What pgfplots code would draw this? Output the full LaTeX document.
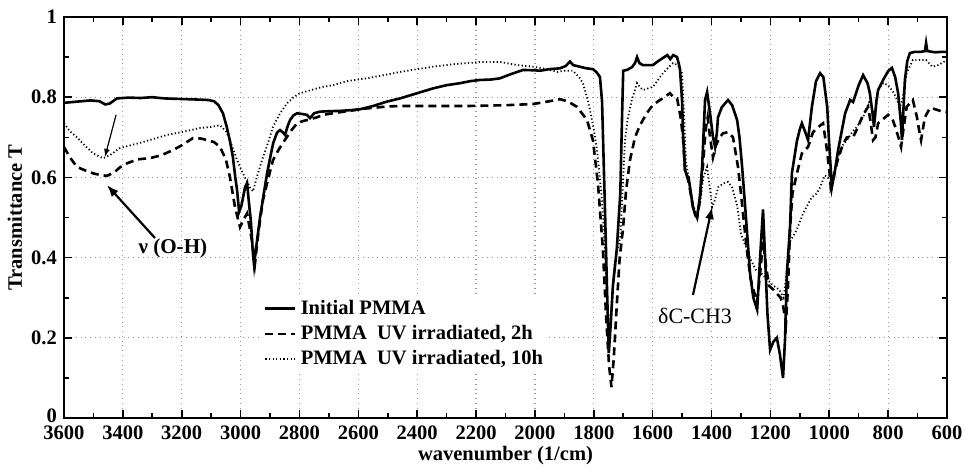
\documentclass[border=0pt]{standalone}
\usepackage{fontspec}
\setmainfont{Liberation Serif}
\usepackage{pgfplots}
\pgfplotsset{compat=1.18}
\usetikzlibrary{arrows.meta}

\newcommand{\lblfont}{\bfseries\fontsize{10.3}{12.4}\selectfont}

\begin{document}
\begin{tikzpicture}
\begin{axis}[
  scale only axis,
  width=441.5bp, height=200.5bp,
  x dir=reverse,
  xmin=600, xmax=3600, ymin=0, ymax=1,
  xtick={600,800,...,3600},
  ytick={0,0.2,0.4,0.6,0.8,1},
  yticklabels={\raisebox{2.5bp}{0},0.2,0.4,0.6,0.8,1},
  minor x tick num=1, minor y tick num=1,
  scaled x ticks=false,
  /pgf/number format/1000 sep={},
  /pgf/number format/assume math mode=true,
  ticklabel style={font=\lblfont, inner sep=1bp},
  xticklabel style={yshift=-2.6bp},
  yticklabel style={xshift=-2.4bp},
  label style={font=\lblfont},
  xlabel={wavenumber (1/cm)},
  ylabel={Transmittance T},
  xlabel style={yshift=1.1bp},
  grid=major,
  major grid style={dotted, gray!80, line width=0.6bp},
  axis line style={line width=1bp},
  tick style={black, line width=0.8bp},
  major tick length=4bp, minor tick length=2.5bp,
  legend cell align=left,
  legend style={draw=none, fill=white, font=\lblfont, at={(0.224,0.31)}, anchor=north west, inner sep=1bp, row sep=0pt},
  legend image code/.code={\draw[#1] (0bp,0bp) -- (15bp,0bp);},
]
\addplot[black, line width=1.3bp] coordinates {
(3600,0.786) (3570,0.788) (3540,0.790) (3510,0.792) (3480,0.790) (3460,0.782) (3445,0.784) (3420,0.797)
(3380,0.799) (3340,0.798) (3300,0.800) (3260,0.797) (3220,0.796) (3180,0.795) (3140,0.794) (3110,0.793)
(3090,0.790) (3075,0.780) (3060,0.760) (3047,0.726) (3036,0.690) (3026,0.650) (3018,0.600) (3012,0.569)
(3005,0.514) (2997,0.530) (2985,0.575) (2978,0.586) (2972,0.540) (2965,0.490) (2958,0.410) (2954,0.380)
(2948,0.420) (2934,0.500) (2920,0.565) (2910,0.610) (2898,0.655) (2889,0.686) (2876,0.712) (2866,0.718)
(2856,0.712) (2849,0.706) (2840,0.728) (2832,0.743) (2820,0.755) (2808,0.760) (2790,0.758) (2775,0.756)
(2764,0.748) (2750,0.760) (2730,0.764) (2700,0.765) (2660,0.766) (2620,0.768) (2594,0.770) (2550,0.778)
(2503,0.789) (2458,0.797) (2400,0.810) (2346,0.822) (2300,0.830) (2254,0.835) (2220,0.840) (2187,0.843)
(2150,0.844) (2119,0.847) (2080,0.858) (2040,0.868) (2000,0.867) (1983,0.866) (1950,0.870) (1915,0.872)
(1895,0.878) (1881,0.889) (1870,0.880) (1847,0.876) (1825,0.872) (1803,0.870) (1790,0.862) (1779,0.850)
(1772,0.790) (1769,0.710) (1762,0.520) (1755,0.320) (1749,0.162) (1742,0.240) (1735,0.330) (1722,0.420)
(1710,0.560) (1704,0.750) (1700,0.866) (1687,0.868) (1670,0.875) (1660,0.885) (1653,0.900) (1645,0.885)
(1633,0.880) (1610,0.880) (1599,0.880) (1585,0.888) (1565,0.898) (1550,0.905) (1540,0.895) (1530,0.905)
(1517,0.900) (1510,0.880) (1507,0.868) (1500,0.790) (1497,0.710) (1490,0.618) (1484,0.605) (1478,0.600)
(1470,0.560) (1463,0.526) (1455,0.505) (1449,0.500) (1440,0.550) (1432,0.626) (1422,0.793) (1415,0.813)
(1405,0.760) (1395,0.700) (1388,0.676) (1382,0.710) (1378,0.750) (1365,0.775) (1344,0.793) (1330,0.780)
(1313,0.743) (1305,0.700) (1296,0.626) (1285,0.520) (1279,0.460) (1269,0.360) (1258,0.300) (1245,0.270)
(1235,0.400) (1225,0.520) (1218,0.400) (1210,0.260) (1201,0.170) (1190,0.190) (1178,0.200) (1168,0.160)
(1157,0.100) (1150,0.200) (1144,0.360) (1133,0.480) (1127,0.610) (1110,0.690) (1100,0.720) (1093,0.735)
(1080,0.710) (1072,0.693) (1059,0.776) (1045,0.840) (1031,0.860) (1020,0.850) (1007,0.776) (1000,0.680)
(991,0.576) (980,0.620) (970,0.668) (946,0.760) (929,0.793) (919,0.788) (900,0.830) (885,0.855)
(870,0.835) (862,0.810) (853,0.760) (848,0.726) (840,0.790) (834,0.818) (817,0.843) (800,0.865)
(787,0.873) (776,0.850) (766,0.810) (757,0.740) (753,0.693) (748,0.770) (743,0.843) (735,0.890)
(726,0.910) (710,0.913) (690,0.913) (675,0.915) (671,0.935) (667,0.915) (640,0.912) (620,0.913) (600,0.913)
};
\addlegendentry{Initial PMMA}
\addplot[black, line width=1.3bp, dash pattern=on 4bp off 2.5bp] coordinates {
(3600,0.676) (3580,0.650) (3556,0.626) (3530,0.618) (3500,0.610) (3478,0.606) (3454,0.604) (3430,0.612)
(3410,0.625) (3386,0.635) (3350,0.645) (3308,0.648) (3270,0.655) (3230,0.668) (3200,0.680) (3162,0.698)
(3135,0.697) (3114,0.693) (3090,0.688) (3070,0.676) (3050,0.645) (3036,0.600) (3019,0.526) (3002,0.476)
(2990,0.495) (2978,0.510) (2968,0.470) (2961,0.440) (2951,0.386) (2940,0.460) (2924,0.544) (2905,0.600)
(2890,0.643) (2870,0.670) (2856,0.686) (2830,0.715) (2808,0.735) (2790,0.740) (2764,0.745) (2740,0.750)
(2720,0.756) (2686,0.760) (2640,0.765) (2571,0.772) (2500,0.777) (2458,0.778) (2350,0.778) (2231,0.778)
(2100,0.780) (2006,0.783) (1950,0.790) (1915,0.795) (1890,0.790) (1857,0.776) (1823,0.743) (1803,0.693)
(1786,0.586) (1769,0.420) (1758,0.250) (1748,0.130) (1740,0.077) (1732,0.150) (1722,0.280) (1712,0.400)
(1701,0.470) (1690,0.570) (1677,0.643) (1660,0.700) (1643,0.730) (1620,0.760) (1600,0.780) (1575,0.793)
(1560,0.800) (1541,0.810) (1530,0.800) (1517,0.797) (1505,0.750) (1497,0.700) (1490,0.618) (1478,0.590)
(1463,0.526) (1449,0.500) (1440,0.540) (1430,0.620) (1420,0.720) (1413,0.750) (1405,0.700) (1395,0.650)
(1385,0.680) (1372,0.700) (1361,0.710) (1344,0.713) (1327,0.700) (1310,0.626) (1300,0.560) (1293,0.510)
(1280,0.420) (1268,0.350) (1258,0.320) (1245,0.290) (1235,0.360) (1225,0.440) (1215,0.380) (1205,0.330)
(1190,0.320) (1178,0.310) (1165,0.300) (1157,0.280) (1147,0.237) (1140,0.330) (1133,0.476) (1125,0.560)
(1110,0.610) (1093,0.660) (1072,0.676) (1055,0.713) (1030,0.730) (1021,0.735) (1010,0.680) (1000,0.620)
(995,0.576) (985,0.600) (974,0.636) (955,0.680) (940,0.700) (919,0.700) (900,0.730) (885,0.756)
(868,0.776) (860,0.740) (851,0.693) (843,0.700) (834,0.735) (818,0.745) (800,0.756) (785,0.745)
(776,0.726) (765,0.700) (756,0.676) (748,0.720) (737,0.776) (716,0.793) (702,0.750) (694,0.715)
(688,0.693) (682,0.720) (675,0.750) (658,0.773) (640,0.770) (620,0.765) (600,0.763)
};
\addlegendentry{PMMA\ \ UV irradiated, 2h}
\addplot[black, line width=0.9bp, dash pattern=on 0.6bp off 1.2bp] coordinates {
(3600,0.735) (3580,0.715) (3556,0.700) (3530,0.680) (3501,0.660) (3480,0.652) (3467,0.648) (3445,0.655)
(3410,0.673) (3375,0.680) (3342,0.686) (3300,0.695) (3250,0.706) (3200,0.713) (3138,0.723) (3100,0.726)
(3070,0.730) (3050,0.715) (3036,0.693) (3012,0.643) (2992,0.610) (2968,0.575) (2958,0.565) (2945,0.600)
(2924,0.650) (2905,0.690) (2890,0.726) (2866,0.760) (2842,0.785) (2820,0.800) (2798,0.810) (2760,0.818)
(2720,0.826) (2686,0.830) (2640,0.840) (2571,0.847) (2500,0.857) (2458,0.863) (2400,0.870) (2346,0.876)
(2280,0.882) (2231,0.885) (2180,0.888) (2119,0.888) (2060,0.880) (2006,0.876) (1960,0.870) (1925,0.863)
(1900,0.866) (1871,0.866) (1850,0.850) (1837,0.835) (1825,0.805) (1813,0.768) (1800,0.720) (1789,0.668)
(1772,0.544) (1762,0.420) (1755,0.300) (1748,0.170) (1740,0.280) (1730,0.380) (1720,0.420) (1710,0.450)
(1700,0.600) (1694,0.693) (1685,0.745) (1671,0.793) (1653,0.835) (1643,0.825) (1633,0.818) (1615,0.822)
(1599,0.826) (1580,0.845) (1565,0.860) (1545,0.875) (1531,0.885) (1514,0.880) (1500,0.860) (1493,0.750)
(1487,0.640) (1478,0.600) (1463,0.530) (1449,0.505) (1438,0.540) (1428,0.600) (1415,0.626) (1405,0.570)
(1398,0.526) (1390,0.540) (1377,0.576) (1360,0.585) (1344,0.589) (1330,0.575) (1313,0.530) (1300,0.460)
(1290,0.440) (1270,0.400) (1250,0.370) (1230,0.360) (1210,0.345) (1190,0.330) (1170,0.320) (1155,0.300)
(1145,0.360) (1133,0.440) (1110,0.470) (1089,0.510) (1060,0.550) (1042,0.560) (1031,0.576) (1015,0.605)
(1005,0.600) (995,0.590) (985,0.600) (974,0.643) (955,0.680) (940,0.693) (920,0.715) (906,0.726)
(885,0.750) (862,0.793) (853,0.770) (845,0.743) (838,0.790) (834,0.818) (817,0.835) (800,0.830)
(780,0.810) (759,0.776) (750,0.800) (737,0.860) (716,0.893) (700,0.893) (671,0.893) (650,0.876)
(630,0.880) (600,0.893)
};
\addlegendentry{PMMA\ \ UV irradiated, 10h}
\node[font=\bfseries\fontsize{10.6}{12}\selectfont] at (axis cs:3230,0.424) {ν (O-H)};
\node[font=\fontsize{11}{13}\selectfont] at (axis cs:1456,0.254) {δC-CH3};
\draw[-{Latex[length=6bp,width=4.5bp]}, line width=1.1bp] (axis cs:3291,0.449) -- (axis cs:3454,0.581);
\draw[-{Latex[length=4bp,width=3bp]}, line width=0.6bp] (axis cs:3423,0.756) -- (axis cs:3461,0.651);
\draw[-{Latex[length=6bp,width=4.5bp]}, line width=1.1bp] (axis cs:1463,0.307) -- (axis cs:1398,0.526);
\end{axis}
\path ([shift={(-32bp,-22.5bp)}]current axis.south west) rectangle ([shift={(9bp,8.5bp)}]current axis.north east);
\end{tikzpicture}
\end{document}
